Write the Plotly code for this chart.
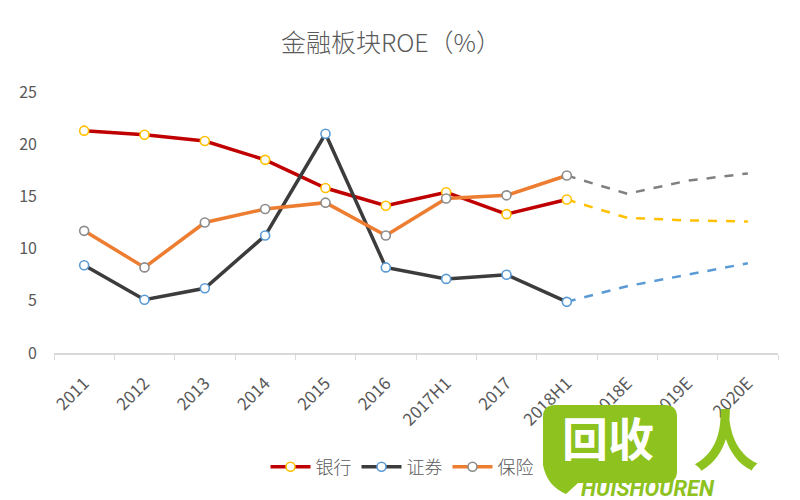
import plotly.graph_objects as go

categories = ["2011", "2012", "2013", "2014", "2015", "2016", "2017H1", "2017",
              "2018H1", "2018E", "2019E", "2020E"]
bank_actual = [21.3, 20.9, 20.3, 18.5, 15.8, 14.1, 15.4, 13.3, 14.7]
bank_forecast = [12.95, 12.7, 12.6]
sec_actual = [8.4, 5.1, 6.2, 11.25, 21.0, 8.2, 7.1, 7.5, 4.9]
sec_forecast = [6.4, 7.5, 8.6]
ins_actual = [11.7, 8.2, 12.5, 13.8, 14.4, 11.25, 14.8, 15.1, 17.0]
ins_forecast = [15.25, 16.5, 17.2]

series = [
    ("银行", bank_actual, bank_forecast, "#C00000", "#FFC000", "#FFC000"),
    ("证券", sec_actual, sec_forecast, "#3C3C3C", "#5B9BD5", "#5B9BD5"),
    ("保险", ins_actual, ins_forecast, "#ED7D31", "#8C8C8C", "#808080"),
]

FONT = "Noto Sans CJK SC"
GRAY = "#595959"

W, H = 800, 500
ML, MR, MT, MB = 54, 22, 92, 147
PW, PH = W - ML - MR, H - MT - MB


def px(x):
    return (x - ML) / PW


def py(y):
    return (H - MB - y) / PH


fig = go.Figure()
n_act = len(bank_actual)

# forecast dashed lines first (below markers)
for name, act, fc, lc, mc, dc in series:
    fig.add_trace(go.Scatter(
        x=categories[n_act - 1:], y=[act[-1]] + fc, mode="lines",
        line=dict(color=dc, width=2.5, dash="dash"),
        showlegend=False, hoverinfo="skip"))

for name, act, fc, lc, mc, dc in series:
    fig.add_trace(go.Scatter(
        x=categories[:n_act], y=act, mode="lines+markers", name=name,
        line=dict(color=lc, width=3.5),
        marker=dict(symbol="circle", size=9, color="white",
                    line=dict(color=mc, width=1.6))))

# watermark logo
def path_from(points):
    s = ""
    for cmd, pts in points:
        s += cmd + " " + " ".join(f"{px(a):.5f},{py(b):.5f}" for a, b in pts) + " "
    return s + "Z"

bubble = path_from([
    ("M", [(555, 405)]), ("L", [(665, 405)]), ("Q", [(677, 405), (677, 417)]),
    ("L", [(677, 471)]), ("Q", [(677, 483), (665, 483)]), ("L", [(578, 483)]),
    ("L", [(566, 494)]), ("Q", [(547, 486), (543, 465)]), ("L", [(543, 417)]),
    ("Q", [(543, 405), (555, 405)]),
])
GREEN = "#8DC21F"
fig.add_shape(type="path", path=bubble, xref="paper", yref="paper",
              fillcolor=GREEN, line=dict(width=0), layer="above")

annos = [
    ("<b>回收</b>", 608, 436, 46, "white", FONT),
    ("<b>人</b>", 726, 436, 66, GREEN, FONT),
    ("<b><i>HUISHOUREN</i></b>", 648, 488, 22, GREEN, "Roboto"),
]
for txt, x, y, s, c, f in annos:
    fig.add_annotation(text=txt, x=px(x), y=py(y), xref="paper", yref="paper",
                       xanchor="center", yanchor="middle", showarrow=False,
                       font=dict(size=s, color=c, family=f))

fig.update_layout(
    width=W, height=H,
    margin=dict(l=ML, r=MR, t=MT, b=MB),
    paper_bgcolor="white", plot_bgcolor="white",
    title=dict(text="金融板块ROE（%）", x=391 / W, xanchor="center",
               y=1 - 43 / H, yanchor="middle",
               font=dict(family=FONT, size=25, color=GRAY, weight=300)),
    font=dict(family=FONT, color=GRAY),
    showlegend=True,
    legend=dict(orientation="h", x=px(402), xanchor="center",
                y=py(467), yanchor="middle",
                font=dict(size=18, color=GRAY, family=FONT, weight=300),
                bgcolor="rgba(0,0,0,0)", itemwidth=40),
    xaxis=dict(type="category", categoryorder="array", categoryarray=categories,
               range=[-0.5, len(categories) - 0.5],
               showline=True, linecolor="#D9D9D9", linewidth=1.5,
               ticks="outside", tickson="boundaries", ticklen=5,
               tickcolor="#D9D9D9", tickwidth=1,
               tickangle=-45, showgrid=False, zeroline=False,
               ticklabelstandoff=12,
               tickfont=dict(size=17, color=GRAY, family=FONT)),
    yaxis=dict(range=[0, 25], tickvals=[0, 5, 10, 15, 20, 25],
               showgrid=False, zeroline=False, showline=False,
               ticks="", ticklabelstandoff=16,
               tickfont=dict(size=16, color=GRAY, family=FONT)),
)

fig.write_html("out.html", config={"displayModeBar": False},
               post_script="document.body.style.margin='0';"
                           "document.body.style.overflow='hidden';")
